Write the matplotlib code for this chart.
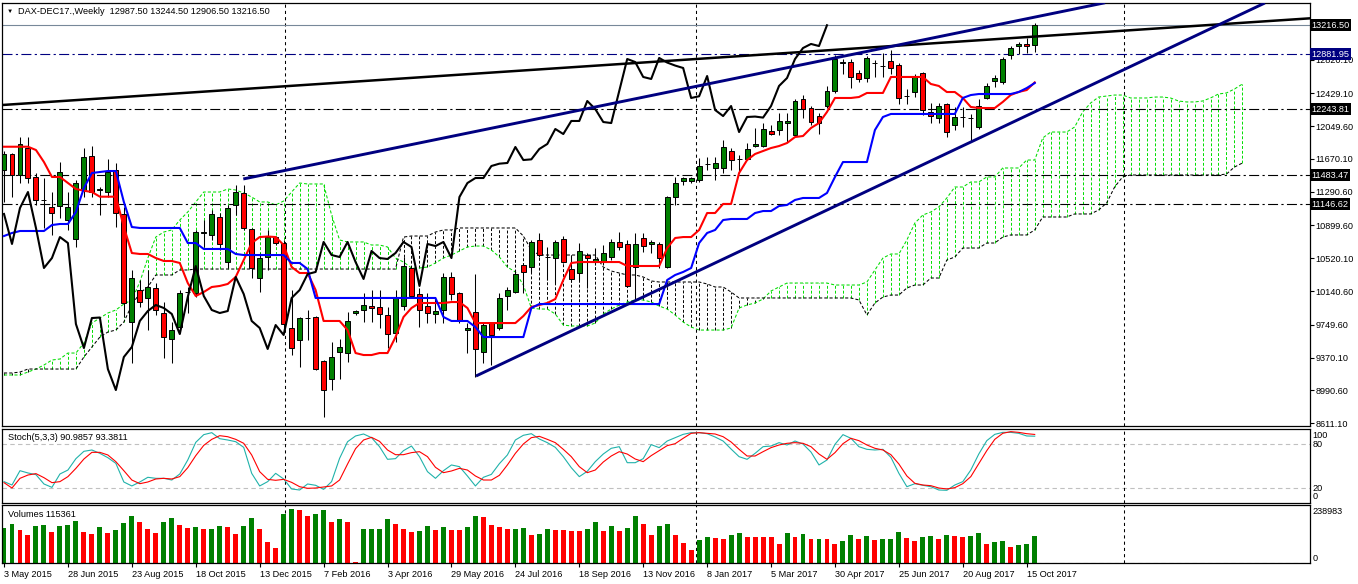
import matplotlib
matplotlib.use("Agg")
import matplotlib.pyplot as plt
import matplotlib.transforms as mtrans
import numpy as np

plt.rcParams['font.family'] = ['Liberation Sans', 'DejaVu Sans']
plt.rcParams['font.size'] = 6.6

# ---- weekly DAX-DEC17 bars, 3 May 2015 .. 22 Oct 2017 ----
opens = [11542, 11727, 11484, 11800, 11461, 11195, 11114, 11125, 10963, 10743,
         11310, 11704, 11310, 11287, 11542, 11033, 9783, 10153, 10061, 10177,
         9887, 9586, 9725, 10130, 10119, 10813, 10790, 10998, 10477, 11137,
         11276, 10859, 10292, 10535, 10766, 10697, 9714, 9575, 9829, 9841,
         9332, 9124, 9436, 9424, 9887, 9922, 9968, 9957, 9864, 9656,
         9968, 10408, 10107, 9968, 9876, 9922, 10304, 10119, 9690, 9899,
         9436, 9771, 9714, 10084, 10130, 10442, 10419, 10732, 10540, 10523,
         10743, 10396, 10350, 10558, 10489, 10477, 10535, 10709, 10686, 10419,
         10755, 10686, 10686, 10419, 11229, 11414, 11414, 11426, 11611, 11565,
         11565, 11761, 11669, 11669, 11819, 11819, 11993, 12004, 12085, 11947,
         12363, 12259, 12166, 12282, 12456, 12780, 12791, 12664, 12606, 12780,
         12745, 12803, 12757, 12398, 12444, 12664, 12213, 12143, 12305, 12062,
         12155, 12143, 12039, 12375, 12571, 12560, 12872, 12976, 13000, 12987.5]
highs = [11765, 11740, 11923, 11923, 11507, 11449, 11287, 11634, 11287, 11426,
         11796, 11819, 11345, 11669, 11623, 11114, 10385, 10269, 10385, 10234,
         10014, 9783, 10153, 10188, 10847, 10963, 11079, 11044, 11137, 11368,
         11368, 10871, 10581, 10847, 10778, 10732, 10153, 9841, 9922, 9850,
         9343, 9551, 9586, 9899, 9922, 10119, 10153, 10153, 9957, 10153,
         10535, 10431, 10177, 10119, 10072, 10350, 10362, 10130, 9771, 10338,
         9783, 9783, 10119, 10188, 10385, 10466, 10732, 10813, 10651, 10732,
         10778, 10558, 10697, 10581, 10639, 10674, 10743, 10824, 10732, 10813,
         10813, 10732, 10709, 11241, 11461, 11461, 11461, 11680, 11692, 11692,
         11889, 11796, 11715, 11854, 12028, 12085, 12062, 12201, 12201, 12363,
         12409, 12282, 12201, 12514, 12872, 12826, 12826, 12699, 12861, 12814,
         12895, 12930, 12780, 12479, 12652, 12670, 12317, 12317, 12317, 12271,
         12271, 12190, 12363, 12548, 12641, 12849, 12976, 13023, 13069, 13244.5]
lows = [11175, 11229, 11391, 11391, 11137, 10871, 10790, 10986, 10847, 10651,
        11229, 11229, 11021, 11229, 10882, 9841, 9309, 9957, 9690, 9864,
        9366, 9309, 9656, 9887, 10072, 10651, 10732, 10616, 10408, 11021,
        10847, 10292, 10130, 10385, 10674, 9656, 9401, 9262, 9575, 9227,
        8684, 8996, 9124, 9320, 9864, 9783, 9783, 9714, 9482, 9551,
        9922, 10061, 9725, 9771, 9771, 9771, 10037, 9771, 9424, 9147,
        9309, 9286, 9690, 9922, 10119, 10119, 10362, 10535, 10269, 10234,
        10466, 10246, 10269, 10177, 10442, 10442, 10500, 10616, 10188, 10037,
        10593, 10581, 10408, 10408, 11137, 11368, 11391, 11403, 11542, 11426,
        11507, 11542, 11507, 11657, 11808, 11808, 11947, 11947, 11866, 11923,
        12143, 12062, 11958, 12259, 12433, 12652, 12490, 12560, 12560, 12618,
        12618, 12652, 12305, 12305, 12386, 12178, 12085, 12085, 11923, 12004,
        12039, 11866, 12016, 12363, 12502, 12537, 12826, 12884, 12895, 12906.5]
closes = [11727, 11484, 11843, 11449, 11195, 11200, 11044, 11519, 11114, 11391,
          11692, 11287, 11322, 11519, 11044, 10003, 10292, 10014, 10188, 9922,
          9609, 9690, 10119, 10135, 10824, 10820, 11033, 10686, 11102, 11287,
          10871, 10408, 10523, 10766, 10697, 9760, 9482, 9829, 9835, 9239,
          8996, 9378, 9494, 9795, 9910, 9980, 9945, 9876, 9644, 10072,
          10431, 10084, 9922, 9887, 9910, 10304, 10107, 9795, 9714, 9471,
          9748, 9633, 10061, 10153, 10338, 10362, 10709, 10558, 10535, 10709,
          10477, 10281, 10605, 10523, 10512, 10581, 10709, 10651, 10200, 10686,
          10662, 10709, 10523, 11229, 11391, 11449, 11449, 11588, 11615, 11623,
          11808, 11657, 11665, 11785, 11843, 12016, 11958, 12109, 12109, 12340,
          12247, 12097, 12085, 12456, 12826, 12791, 12618, 12595, 12838, 12785,
          12750, 12722, 12375, 12395, 12629, 12236, 12166, 12282, 11981, 12155,
          12160, 12148, 12282, 12514, 12606, 12826, 12953, 13000, 12976, 13216.5]

# Ichimoku lines
tenkan = [11811, 11811, 11811, 11811, 11773, 11634, 11461, 11461, 11391, 11322,
          11302, 11287, 11233, 11233, 11233, 10882, 10581, 10570, 10570, 10523,
          10489, 10489, 10466, 10234, 10084, 10130, 10188, 10200, 10223, 10304,
          10500, 10697, 10766, 10772, 10766, 10674, 10419, 10350, 10350, 10153,
          9795, 9795, 9795, 9690, 9424, 9401, 9401, 9424, 9424, 9609,
          9841, 9945, 10003, 10003, 10003, 10003, 10014, 10014, 9945, 9771,
          9771, 9771, 9771, 9771, 9771, 9852, 9957, 9980, 10003, 10049,
          10269, 10466, 10477, 10477, 10477, 10477, 10477, 10477, 10431, 10431,
          10431, 10431, 10431, 10639, 10755, 10766, 10766, 10848, 11044, 11044,
          11149, 11149, 11507, 11657, 11727, 11761, 11796, 11819, 11854, 11923,
          11935, 12028, 12085, 12213, 12375, 12375, 12375, 12386, 12433, 12433,
          12433, 12618, 12618, 12618, 12618, 12618, 12537, 12514, 12444, 12444,
          12375, 12271, 12259, 12259, 12259, 12329, 12410, 12445, 12467, 12555]
kijun = [10778, 10813, 10836, 10836, 10836, 10836, 10905, 10917, 10917, 11056,
         11333, 11507, 11519, 11530, 11530, 11172, 10882, 10871, 10871, 10871,
         10871, 10871, 10871, 10697, 10697, 10628, 10628, 10628, 10628, 10570,
         10558, 10558, 10558, 10558, 10558, 10558, 10466, 10466, 10396, 10061,
         10061, 10061, 10061, 10061, 10061, 10061, 10061, 10061, 10061, 10061,
         10061, 10061, 10061, 10061, 10061, 9841, 9795, 9795, 9795, 9725,
         9609, 9609, 9609, 9609, 9609, 9609, 9945, 9991, 9991, 9991,
         9991, 9991, 9991, 9991, 9991, 9991, 9991, 9991, 9991, 9991,
         9991, 9991, 9991, 10269, 10327, 10362, 10408, 10697, 10813, 10848,
         10963, 10975, 10975, 10975, 11044, 11067, 11067, 11125, 11137, 11195,
         11218, 11218, 11218, 11276, 11461, 11634, 11634, 11634, 11634, 12004,
         12155, 12190, 12190, 12190, 12190, 12190, 12190, 12190, 12190, 12190,
         12375, 12409, 12421, 12421, 12421, 12421, 12421, 12444, 12490, 12548]
span_a = [9170, 9170, 9170, 9204, 9239, 9285, 9343, 9355, 9424, 9424,
          9540, 9771, 9829, 9887, 9922, 9991, 10038, 10246, 10523, 10766,
          10824, 10848, 10963, 11056, 11172, 11287, 11287, 11287, 11322, 11310,
          11276, 11229, 11172, 11172, 11137, 11183, 11287, 11391, 11380, 11380,
          11380, 11021, 10732, 10709, 10709, 10709, 10674, 10674, 10651, 10523,
          10477, 10408, 10408, 10419, 10466, 10523, 10558, 10605, 10651, 10662,
          10662, 10616, 10535, 10419, 10362, 10211, 9945, 9933, 9933, 9876,
          9748, 9737, 9737, 9737, 9771, 9876, 9933, 9980, 10014, 10038,
          10038, 10014, 9968, 9933, 9864, 9783, 9725, 9690, 9690, 9690,
          9690, 9714, 9945, 9980, 10003, 10049, 10142, 10188, 10234, 10234,
          10234, 10234, 10234, 10234, 10211, 10211, 10211, 10211, 10246, 10385,
          10523, 10570, 10570, 10732, 10928, 11021, 11056, 11114, 11218, 11345,
          11345, 11403, 11403, 11461, 11461, 11565, 11565, 11565, 11657, 11657,
          11912, 11981, 11981, 11981, 12039, 12213, 12317, 12386, 12398, 12409,
          12409, 12375, 12375, 12375, 12386, 12386, 12375, 12340, 12329, 12329,
          12340, 12375, 12421, 12433, 12479, 12537]
span_b = [9193, 9193, 9204, 9239, 9239, 9239, 9239, 9239, 9239, 9239,
          9378, 9494, 9609, 9667, 9690, 9783, 9980, 10119, 10188, 10327,
          10327, 10327, 10385, 10385, 10396, 10396, 10396, 10396, 10396, 10396,
          10396, 10396, 10396, 10396, 10396, 10396, 10396, 10396, 10396, 10396,
          10396, 10396, 10396, 10396, 10396, 10396, 10396, 10396, 10396, 10396,
          10766, 10778, 10778, 10778, 10824, 10848, 10848, 10871, 10871, 10871,
          10871, 10871, 10871, 10871, 10871, 10778, 10616, 10558, 10558, 10558,
          10558, 10558, 10558, 10558, 10558, 10419, 10373, 10350, 10327, 10327,
          10304, 10258, 10246, 10246, 10246, 10246, 10246, 10246, 10223, 10188,
          10188, 10130, 10061, 10061, 10061, 10061, 10061, 10061, 10061, 10061,
          10061, 10061, 10061, 10061, 10061, 10061, 10061, 10038, 9864, 10003,
          10072, 10095, 10095, 10177, 10211, 10211, 10292, 10292, 10500, 10535,
          10639, 10639, 10639, 10697, 10697, 10766, 10790, 10790, 10790, 10848,
          10998, 10998, 10998, 10998, 11033, 11033, 11033, 11079, 11160, 11345,
          11461, 11484, 11484, 11484, 11484, 11484, 11484, 11484, 11484, 11484,
          11484, 11484, 11484, 11495, 11576, 11623]

# Stochastic(5,3,3)
stoch_k = [29.1, 24.5, 44.0, 40.9, 38.6, 25.9, 21.3, 39.5, 44.9, 60.4,
           70.4, 72.2, 67.6, 61.7, 54.0, 28.6, 23.2, 28.6, 35.0, 33.6,
           33.6, 31.3, 39.5, 58.6, 82.6, 93.1, 95.8, 87.6, 85.8, 83.5,
           75.8, 40.4, 23.2, 29.1, 40.4, 32.7, 19.1, 17.7, 25.9, 24.1,
           18.6, 29.1, 60.8, 83.5, 91.3, 94.0, 89.0, 76.7, 59.5, 60.4,
           71.3, 77.6, 63.1, 42.7, 33.6, 44.0, 51.8, 49.5, 36.8, 23.2,
           35.0, 39.0, 53.6, 65.4, 85.8, 92.2, 94.4, 87.2, 82.2, 75.8,
           63.1, 48.1, 35.9, 43.1, 56.3, 66.7, 74.5, 76.7, 54.9, 54.9,
           60.4, 79.5, 75.4, 84.4, 89.0, 93.5, 95.8, 95.8, 94.4, 89.9,
           84.4, 73.5, 63.1, 59.5, 67.6, 76.7, 77.6, 82.2, 79.0, 84.4,
           80.3, 69.4, 51.8, 58.6, 79.9, 93.1, 88.1, 76.7, 73.1, 72.2,
           73.1, 62.2, 40.4, 22.2, 26.3, 24.1, 22.2, 17.7, 17.3, 24.5,
           29.1, 44.9, 66.7, 84.9, 93.5, 96.2, 96.2, 94.9, 91.3, 90.9857]
stoch_d = [27.7, 20.4, 33.6, 38.1, 40.0, 34.5, 27.7, 29.1, 35.9, 47.2,
           59.9, 69.0, 69.0, 65.4, 56.3, 44.0, 31.3, 26.3, 28.6, 32.7,
           33.6, 32.7, 35.9, 48.1, 64.5, 78.5, 86.7, 91.7, 90.3, 86.7,
           81.3, 65.4, 42.7, 32.2, 30.9, 32.2, 28.1, 22.2, 20.0, 20.4,
           21.8, 23.2, 31.3, 53.1, 74.0, 85.8, 89.4, 84.0, 72.2, 65.8,
           65.8, 68.6, 69.9, 63.1, 48.6, 41.3, 43.6, 47.2, 44.9, 36.8,
           31.3, 31.3, 37.7, 51.8, 67.6, 80.4, 89.0, 90.8, 86.7, 82.2,
           73.1, 63.1, 49.5, 41.3, 44.9, 55.8, 64.0, 69.9, 66.7, 59.9,
           56.3, 64.5, 71.3, 78.1, 80.8, 88.1, 94.9, 95.8, 94.9, 94.0,
           90.3, 83.1, 73.1, 64.0, 64.0, 69.9, 75.4, 79.0, 81.3, 82.2,
           81.3, 76.7, 66.7, 59.5, 68.6, 80.8, 88.1, 84.9, 79.0, 74.5,
           72.2, 65.8, 53.1, 36.8, 26.8, 24.5, 23.6, 20.4, 19.1, 20.9,
           26.3, 35.9, 53.6, 71.3, 86.7, 94.9, 97.2, 96.2, 94.4, 93.3811]

volumes = [150500, 166400, 140600, 119100, 157800, 162100, 133300, 157800, 162100, 179300,
           133300, 123400, 152200, 129000, 140600, 169400, 200800, 176300, 144900, 129000,
           176300, 190900, 162100, 150500, 153500, 143600, 144900, 157800, 153500, 123400,
           157800, 190900, 144900, 89000, 64500, 209400, 230900, 226600, 200800, 209400,
           226600, 176300, 187900, 176300, 3000, 144900, 145000, 145100, 187900, 166400,
           144900, 133300, 137600, 157800, 140600, 153500, 140600, 139000, 152200, 200800,
           196500, 162100, 153500, 144900, 146000, 149200, 119100, 123400, 144900, 140600,
           139000, 137600, 136300, 144900, 175000, 136300, 157800, 136300, 149200, 200800,
           166400, 119100, 157800, 166400, 119100, 86000, 54600, 97600, 109200, 104900,
           101900, 119100, 126400, 109200, 109100, 109000, 108900, 80400, 126400, 109200,
           123400, 101900, 102000, 101800, 80400, 93300, 119100, 101900, 114800, 97600,
           101900, 102000, 132000, 106200, 93300, 110500, 114800, 101900, 119100, 114800,
           110500, 114800, 127700, 80400, 89000, 93300, 67500, 76100, 80400, 115361]

date_labels = ["3 May 2015", "28 Jun 2015", "23 Aug 2015", "18 Oct 2015", "13 Dec 2015",
               "7 Feb 2016", "3 Apr 2016", "29 May 2016", "24 Jul 2016", "18 Sep 2016",
               "13 Nov 2016", "8 Jan 2017", "5 Mar 2017", "30 Apr 2017", "25 Jun 2017",
               "20 Aug 2017", "15 Oct 2017"]
price_ticks = [12820.10, 12429.10, 12049.60, 11670.10, 11290.60, 10899.60,
               10520.10, 10140.60, 9749.60, 9370.10, 8990.60, 8611.10]

# drawn objects
levels = [12881.95, 12243.81, 11483.47, 11146.62]
level_colors = ['#000080', 'black', 'black', 'black']
last_price = 13216.50
year_lines = [35.17, 86.6, 140.2]
black_trend = [(-1, 12289), (164, 13300)]
navy_upper = [(29.95, 11438), (137.8, 13477)]
navy_lower = [(59.07, 9158), (157.8, 13474)]

# ---- figure ----
W, H = 1358, 584
fig = plt.figure(figsize=(W / 100, H / 100), dpi=100)
fig.patch.set_facecolor('white')


def px_axes(left, top, right, bottom):
    return fig.add_axes([left / W, 1 - bottom / H, (right - left) / W, (bottom - top) / H])


ax = px_axes(2, 2.5, 1309.5, 426)
ax_st = px_axes(2, 428.7, 1309.5, 502.7)
ax_v = px_axes(2, 505.3, 1309.5, 563.3)
XL = (-0.25, 163.39)
for a in (ax, ax_st, ax_v):
    a.set_xlim(*XL)
    a.set_facecolor('white')
    for s in a.spines.values():
        s.set_linewidth(0.9)
        s.set_color('black')
    for xv in year_lines:
        a.axvline(xv, color='black', ls=(0, (3, 3)), lw=0.75, zorder=1.8)

ax.set_ylim(8579.8, 13479.7)
x = np.arange(len(closes))
o = np.array(opens); h = np.array(highs); l = np.array(lows); c = np.array(closes)

# cloud
xs = np.arange(len(span_a))
sa = np.array(span_a); sb = np.array(span_b)
for i in xs:
    col = '#00dd00' if sa[i] > sb[i] else 'black'
    ax.vlines(i, min(sa[i], sb[i]), max(sa[i], sb[i]), color=col,
              linestyles=(0, (3, 2)), lw=0.7, zorder=1)
ax.plot(xs, sa, color='#00dd00', ls=(0, (3, 2)), lw=0.75, zorder=1.5)
ax.plot(xs, sb, color='black', ls=(0, (3, 2)), lw=0.75, zorder=1.5)

# level lines
ax.axhline(last_price, color='#778899', lw=0.8, zorder=2)
for lv, lc in zip(levels, level_colors):
    ax.axhline(lv, color=lc, ls=(0, (9, 3, 2, 3)), lw=0.8, zorder=2)

# candles
up = c >= o
ax.vlines(x, l, h, color='black', lw=0.75, zorder=3)
ax.bar(x, np.abs(c - o), bottom=np.minimum(o, c), width=0.62,
       color=np.where(up, '#008000', '#ff0000'), edgecolor='black', linewidth=0.7, zorder=4)

# ichimoku lines
ax.plot(x, tenkan, color='#ff0000', lw=1.5, zorder=5)
ax.plot(x, kijun, color='#0000ff', lw=1.5, zorder=5.1)
ax.plot(x[:len(closes) - 26], closes[26:], color='black', lw=1.5, zorder=5.2)

# trend lines
for seg, col, lw in ((black_trend, 'black', 1.8), (navy_upper, '#000080', 2.1), (navy_lower, '#000080', 2.1)):
    ax.plot([seg[0][0], seg[1][0]], [seg[0][1], seg[1][1]], color=col, lw=lw, zorder=6,
            solid_capstyle='butt')

# right price axis
ax.yaxis.tick_right()
ax.set_yticks(price_ticks)
ax.set_yticklabels([f"{p:.2f}" for p in price_ticks])
ax.tick_params(axis='y', length=3, width=0.8, pad=1.5, labelsize=6.6, colors='black')
ax.set_xticks([])
tr = mtrans.blended_transform_factory(ax.transAxes, ax.transData)
boxes = [(last_price, 'black')] + list(zip(levels, level_colors))
for val, bc in boxes:
    ax.text(1 + 2.0 / 1307.5, val, f"{val:.2f}", transform=tr, ha='left', va='center',
            color='white', fontsize=6.6, clip_on=False, zorder=20,
            bbox=dict(boxstyle='square,pad=0.18', fc=bc, ec='none'))

fig.text(9.5 / W, 1 - 11 / H, "\u25bc", fontsize=4.5, ha='center', va='center', color='black')
fig.text(18 / W, 1 - 11 / H, "DAX-DEC17.,Weekly  12987.50 13244.50 12906.50 13216.50",
         ha='left', va='center', fontsize=6.6, color='black')

# stochastic panel
ax_st.set_ylim(0.4, 101.2)
ax_st.plot(x, stoch_k, color='#20b2aa', lw=0.8, zorder=3)
ax_st.plot(x, stoch_d, color='#ff0000', lw=0.8, zorder=3.1)
for lv in (80, 20):
    ax_st.axhline(lv, color='#c0c0c0', ls=(0, (4, 3)), lw=0.8, zorder=1)
ax_st.set_xticks([]); ax_st.set_yticks([])
trs = mtrans.blended_transform_factory(ax_st.transAxes, ax_st.transData)
for txt, yv in (("100", 91.3), ("80", 79.0), ("20", 19.1), ("0", 8.2)):
    ax_st.text(1 + 3 / 1307.5, yv, txt, transform=trs, ha='left', va='center',
               fontsize=6.6, clip_on=False)
ax_st.text(6 / 1307.5, 1 - 8.5 / 74, "Stoch(5,3,3) 90.9857 93.3811", transform=ax_st.transAxes,
           ha='left', va='center', fontsize=6.6)

# volume panel
vols = np.array(volumes)
vcol = ['#008000'] + ['#008000' if vols[i] > vols[i - 1] else '#ff0000' for i in range(1, len(vols))]
ax_v.set_ylim(-2580, 246800)
ax_v.bar(x, vols, width=0.62, color=vcol, zorder=2)
ax_v.axhline(0, color='#c0c0c0', ls=(0, (4, 3)), lw=0.8, zorder=1)
ax_v.set_yticks([])
trv = mtrans.blended_transform_factory(ax_v.transAxes, ax_v.transData)
ax_v.text(1 + 3 / 1307.5, 238983 * 0.93, "238983", transform=trv, ha='left', va='center',
          fontsize=6.6, clip_on=False)
ax_v.text(1 + 3 / 1307.5, 0.07 * 238983, "0", transform=trv, ha='left', va='center',
          fontsize=6.6, clip_on=False)
ax_v.text(6 / 1307.5, 1 - 9.5 / 58, "Volumes 115361", transform=ax_v.transAxes,
          ha='left', va='center', fontsize=6.6)
ax_v.set_xticks(np.arange(0, 129, 8))
ax_v.set_xticklabels(date_labels)
for lbl in ax_v.get_xticklabels():
    lbl.set_ha('left')
ax_v.tick_params(axis='x', length=3, width=0.8, pad=1.5, labelsize=6.6, colors='black')

fig.savefig("out.png", dpi=100, facecolor='white')
